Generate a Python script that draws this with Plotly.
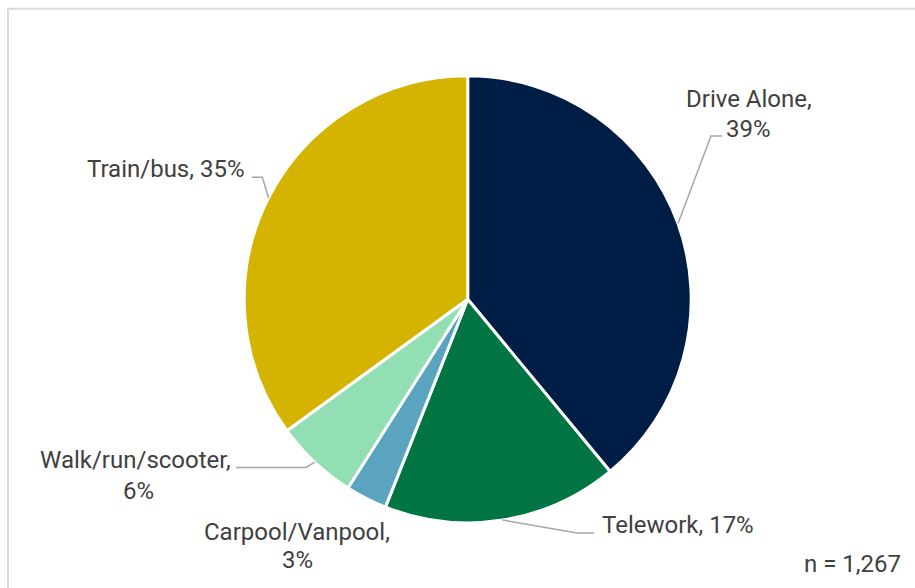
import math
import plotly.graph_objects as go

# Commute mode shares (percent)
modes = ["Drive Alone", "Telework", "Carpool/Vanpool", "Walk/run/scooter", "Train/bus"]
shares = [39, 17, 3, 6, 35]
colors = ["#001e45", "#007442", "#5ba4bf", "#92dfb3", "#d4b400"]
sample_note = "n = 1,267"

W, H = 915, 588
CX, CY, R = 467.7, 299.3, 223.5  # pie centre and radius in pixels

FONT = "Roboto"
TXT = "#404040"
LEADER = "#a6a6a6"


def px(x):
    return x / W


def py(y):
    return 1 - y / H


fig = go.Figure(
    go.Pie(
        labels=modes,
        values=shares,
        sort=False,
        direction="clockwise",
        rotation=0,
        marker=dict(colors=colors, line=dict(color="white", width=3)),
        textinfo="none",
        hoverinfo="label+percent",
        showlegend=False,
        domain=dict(x=[px(CX - R), px(CX + R)], y=[py(CY + R), py(CY - R)]),
    )
)


def edge_point(i):
    """Point on the pie rim at the middle of slice i (pixel coords)."""
    total = sum(shares)
    cum = sum(shares[:i])
    ang = math.radians(360 * (cum + shares[i] / 2) / total)
    return CX + R * math.sin(ang), CY - R * math.cos(ang)


# leader line elbows for the labelled slices
elbows = {
    0: [(711, 136), (722, 136)],
    1: [(577, 533), (594, 533)],
    3: [(306, 467.5), (236, 467.5)],
    4: [(262.3, 177.3), (251.7, 177.3)],
}

shapes = []
for i, pts in elbows.items():
    path = [edge_point(i)] + pts
    d = "M " + " L ".join(f"{px(x):.5f},{py(y):.5f}" for x, y in path)
    shapes.append(dict(type="path", xref="paper", yref="paper", path=d,
                       line=dict(color=LEADER, width=1.5)))

# light frame along the top and left
shapes.append(dict(type="rect", xref="paper", yref="paper",
                   x0=px(8), x1=px(W + 20), y0=py(8.8), y1=py(H + 20),
                   line=dict(color="#d9d9d9", width=2), fillcolor="rgba(0,0,0,0)",
                   layer="below"))

labels = [
    (f"{modes[0]},", 748.5, 99.5, "center"),
    (f"{shares[0]}%", 748.7, 129, "center"),
    (f"{modes[4]}, {shares[4]}%", 246, 169.5, "right"),
    (f"{modes[3]},", 232.5, 460, "right"),
    (f"{shares[3]}%", 138, 490.5, "center"),
    (f"{modes[2]},", 297, 532, "center"),
    (f"{shares[2]}%", 297, 560, "center"),
    (f"{modes[1]}, {shares[1]}%", 600, 525, "left"),
    (sample_note, 903, 564, "right"),
]

annotations = []
for text, x, y, anchor in labels:
    annotations.append(dict(
        text=text, x=px(x), y=py(y), xref="paper", yref="paper",
        xanchor=anchor, yanchor="middle", showarrow=False,
        font=dict(family=FONT, size=24, color=TXT),
    ))

fig.update_layout(
    width=W,
    height=H,
    margin=dict(l=0, r=0, t=0, b=0),
    paper_bgcolor="white",
    plot_bgcolor="white",
    shapes=shapes,
    annotations=annotations,
)

fig.write_html("out.html")
